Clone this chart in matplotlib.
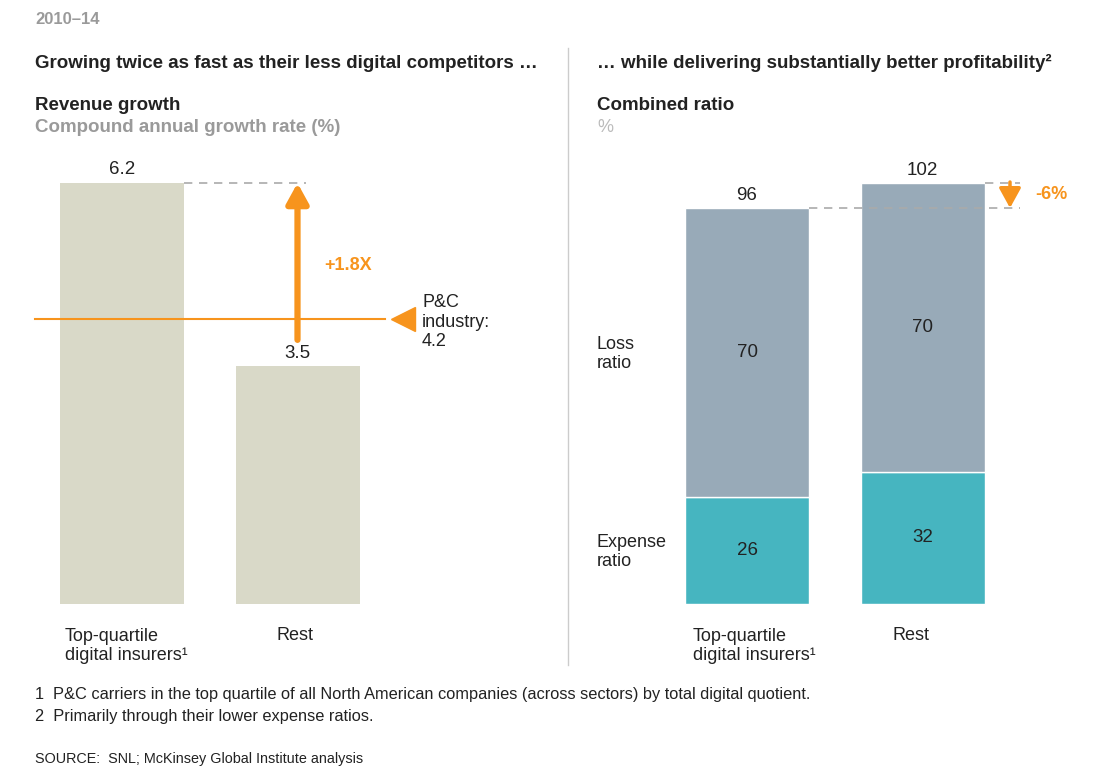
import matplotlib
matplotlib.use("Agg")
import matplotlib.pyplot as plt

plt.rcParams['font.family'] = ['Liberation Sans', 'DejaVu Sans']

# ---- data ----
growth_categories = ["Top-quartile\ndigital insurers¹", "Rest"]
growth_values = [6.2, 3.5]
industry_growth = 4.2
growth_multiple_label = "+1.8X"

ratio_categories = ["Top-quartile\ndigital insurers¹", "Rest"]
expense_ratio = [26, 32]
loss_ratio = [70, 70]
combined_ratio = [96, 102]
ratio_diff_label = "-6%"

W, H = 1097, 768
BEIGE = "#d9d9c8"
LOSS = "#98aab8"
EXP = "#46b5c0"
ORANGE = "#f7941d"
DARK = "#222222"
GRAY = "#9a9a9a"
DASH = "#aaaaaa"
FS = 13
FH = 13.5
FN = 13.5

fig = plt.figure(figsize=(W / 100, H / 100), dpi=100)

def fx(px):
    return px / W

def fy(py):
    return 1 - py / H

def make_axes(x0, x1, y0, y1):
    return fig.add_axes([fx(x0), fy(y1), fx(x1) - fx(x0), fy(y0) - fy(y1)])

def setup(ax, x0, x1, c0, spacing, y0, y1, ppu):
    ax.set_xlim((x0 - c0) / spacing, (x1 - c0) / spacing)
    ax.set_ylim(0, (y1 - y0) / ppu)
    ax.axis("off")

# ---- left panel ----
ax1 = make_axes(30, 560, 150, 604)
setup(ax1, 30, 560, 122, 175.5, 150, 604, 67.9)
bw = 124 / 175.5
xs = [0, 1]
ax1.bar(xs, growth_values, width=bw, color=BEIGE, zorder=1)
for x, v in zip(xs, growth_values):
    ax1.text(x, v + 0.07, f"{v}", ha="center", va="bottom", fontsize=FN, color=DARK)

# industry line
ax1.plot([-0.496, 1.499], [industry_growth, industry_growth], color=ORANGE, lw=1.5, zorder=2)
ax1.plot([1.6], [industry_growth], marker="<", color=ORANGE, markersize=17, clip_on=False, zorder=3)
ax1.text(1.71, industry_growth - 0.05, f"P&C\nindustry:\n{industry_growth}", ha="left", va="center",
         fontsize=FS, color=DARK, linespacing=1.2)

# dashed reference at top value
ax1.plot([0 + bw / 2, 1.05], [growth_values[0], growth_values[0]], color=DASH, lw=1.2,
         dashes=(5, 4), zorder=2)
# arrow
ax1.annotate("", xy=(1, growth_values[0]), xytext=(1, growth_values[1] + 0.39),
             arrowprops=dict(arrowstyle="-|>,head_length=0.6,head_width=0.33", lw=4.5,
                             color=ORANGE, mutation_scale=20, shrinkA=0, shrinkB=0),
             zorder=4)
ax1.text(1.15, 4.99, growth_multiple_label, ha="left", va="center", fontsize=FS,
         color=ORANGE, fontweight="bold")

# ---- right panel ----
ax2 = make_axes(575, 1090, 150, 604)
setup(ax2, 575, 1090, 747, 175.5, 150, 604, 4.125)
ax2.bar(xs, expense_ratio, width=bw, color=EXP, edgecolor="white", lw=1, zorder=1)
ax2.bar(xs, loss_ratio, width=bw, bottom=expense_ratio, color=LOSS, edgecolor="white", lw=1,
        zorder=1)
for x, e, l, t in zip(xs, expense_ratio, loss_ratio, combined_ratio):
    ax2.text(x, e / 2, f"{e}", ha="center", va="center", fontsize=FN, color=DARK)
    ax2.text(x, e + l / 2, f"{l}", ha="center", va="center", fontsize=FN, color=DARK)
    ax2.text(x, t + 1.0, f"{t}", ha="center", va="bottom", fontsize=FN, color=DARK)

xr = (1020 - 747) / 175.5
ax2.plot([0 + bw / 2, xr], [combined_ratio[0]] * 2, color=DASH, lw=1.2, dashes=(5, 4), zorder=2)
ax2.plot([1 + bw / 2, xr], [combined_ratio[1]] * 2, color=DASH, lw=1.2, dashes=(5, 4), zorder=2)
xa = (1010 - 747) / 175.5
ax2.annotate("", xy=(xa, combined_ratio[0]), xytext=(xa, combined_ratio[1] + 0.3),
             arrowprops=dict(arrowstyle="-|>,head_length=0.6,head_width=0.33", lw=2.5,
                             color=ORANGE, mutation_scale=20, shrinkA=0, shrinkB=0),
             zorder=4)
ax2.text((1035 - 747) / 175.5, (combined_ratio[0] + combined_ratio[1]) / 2 + 0.3, ratio_diff_label,
         ha="left", va="center", fontsize=FS, color=ORANGE, fontweight="bold")

# segment labels on the left of right panel
fig.text(fx(597), fy(354), "Loss\nratio", ha="left", va="center", fontsize=FS, color=DARK,
         linespacing=1.1)
fig.text(fx(597), fy(552), "Expense\nratio", ha="left", va="center", fontsize=FS, color=DARK,
         linespacing=1.1)

# category labels
fig.text(fx(65), fy(646), growth_categories[0], ha="left", va="center", fontsize=FS,
         color=DARK, linespacing=1.2)
fig.text(fx(295), fy(635), growth_categories[1], ha="center", va="center", fontsize=FS,
         color=DARK)
fig.text(fx(693), fy(646), ratio_categories[0], ha="left", va="center", fontsize=FS,
         color=DARK, linespacing=1.2)
fig.text(fx(911), fy(635), ratio_categories[1], ha="center", va="center", fontsize=FS,
         color=DARK)

# divider
fig.add_artist(plt.Line2D([fx(568), fx(568)], [fy(48), fy(665)], color="#cccccc", lw=1))

# headers
fig.text(fx(35), fy(19), "2010–14", ha="left", va="center", fontsize=12, color=GRAY,
         fontweight="bold")
fig.text(fx(35), fy(63), "Growing twice as fast as their less digital competitors …", ha="left",
         va="center", fontsize=FH, color=DARK, fontweight="bold")
fig.text(fx(35), fy(106), "Revenue growth", ha="left", va="center", fontsize=FH, color=DARK,
         fontweight="bold")
fig.text(fx(35), fy(127), "Compound annual growth rate (%)", ha="left", va="center", fontsize=FH,
         color=GRAY, fontweight="bold")
fig.text(fx(597), fy(63), "… while delivering substantially better profitability²", ha="left",
         va="center", fontsize=FH, color=DARK, fontweight="bold")
fig.text(fx(597), fy(106), "Combined ratio", ha="left", va="center", fontsize=FH, color=DARK,
         fontweight="bold")
fig.text(fx(597), fy(127), "%", ha="left", va="center", fontsize=FS, color="#bbbbbb")

# footnotes
fig.text(fx(35), fy(695), "1  P&C carriers in the top quartile of all North American companies (across sectors) by total digital quotient.",
         ha="left", va="center", fontsize=11.8, color=DARK)
fig.text(fx(35), fy(716), "2  Primarily through their lower expense ratios.", ha="left", va="center",
         fontsize=11.8, color=DARK)
fig.text(fx(35), fy(759), "SOURCE:  SNL; McKinsey Global Institute analysis", ha="left", va="center",
         fontsize=10.4, color=DARK)

fig.savefig("out.png", dpi=100, facecolor="white")
